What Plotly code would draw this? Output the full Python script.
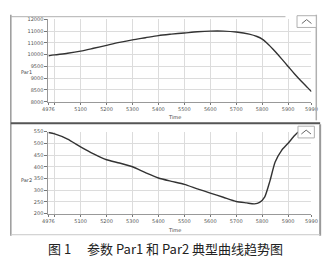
import plotly.graph_objects as go

# ---- data ----
time1 = [4976, 5000, 5050, 5100, 5150, 5200, 5250, 5300, 5350, 5400, 5450, 5500, 5550,
         5600, 5650, 5700, 5750, 5780, 5800, 5825, 5850, 5875, 5900, 5925, 5950, 5975, 5990]
par1 = [9950, 9990, 10060, 10150, 10270, 10395, 10520, 10630, 10720, 10810, 10870, 10920, 10970,
        11000, 11000, 10960, 10870, 10770, 10660, 10420, 10130, 9820, 9500, 9180, 8880, 8600, 8430]

time2 = [4976, 5000, 5050, 5100, 5150, 5200, 5250, 5300, 5350, 5400, 5450, 5500, 5550,
         5600, 5650, 5700, 5740, 5770, 5790, 5810, 5830, 5850, 5875, 5900, 5925, 5950, 5990]
par2 = [546, 540, 518, 485, 455, 430, 416, 400, 375, 352, 338, 325, 306,
        288, 270, 252, 246, 242, 248, 272, 340, 420, 470, 500, 533, 560, 590]

x_tickvals = [4976, 5000, 5100, 5200, 5300, 5400, 5500, 5600, 5700, 5800, 5900, 5990]
x_ticktext = ["4976", "", "5100", "5200", "5300", "5400", "5500", "5600", "5700", "5800", "5900", "5990"]

y1_tickvals = [8000, 8500, 9000, 9500, 10000, 10500, 11000, 11500]
y1_ticktext = ["8000", "8500", "9000", "9500", "10000", "11000", "11000", "12000"]

y2_tickvals = [200, 250, 300, 350, 400, 450, 500, 550]
y2_ticktext = ["200", "250", "300", "350", "400", "450", "500", "550"]

caption = "图 1　 参数 Par1 和 Par2 典型曲线趋势图"

# ---- figure ----
W, H = 330, 270
def py(p):  # pixel row -> paper y
    return 1 - p / H
def px(p):
    return p / W

line_col = "#333333"
grid_col = "#dcdcdc"
tick_font = dict(family="DejaVu Sans", size=5, color="#555555")

fig = go.Figure()
fig.add_trace(go.Scatter(x=time1, y=par1, mode="lines", xaxis="x", yaxis="y",
                         line=dict(color=line_col, width=1.4, shape="spline", smoothing=0.8),
                         showlegend=False, hoverinfo="skip"))
fig.add_trace(go.Scatter(x=time2, y=par2, mode="lines", xaxis="x2", yaxis="y2",
                         line=dict(color=line_col, width=1.4, shape="spline", smoothing=0.6),
                         showlegend=False, hoverinfo="skip"))

xcommon = dict(range=[4976, 5990], tickvals=x_tickvals, ticktext=x_ticktext, tickfont=tick_font,
               showgrid=True, gridcolor=grid_col, gridwidth=1, showline=True, linecolor="#999999",
               ticks="outside", ticklen=2, tickcolor="#777777", zeroline=False, fixedrange=True)
ycommon = dict(tickfont=tick_font, showgrid=True, gridcolor=grid_col, gridwidth=1, showline=True,
               linecolor="#999999", ticks="outside", ticklen=3, tickcolor="#777777", zeroline=False,
               fixedrange=True)

fig.update_layout(
    width=W, height=H, margin=dict(l=0, r=0, t=0, b=0),
    paper_bgcolor="white", plot_bgcolor="white",
    xaxis=dict(domain=[px(44), px(317)], anchor="y", **xcommon),
    yaxis=dict(domain=[py(101), py(16.7)], anchor="x", range=[8000, 11500],
               tickvals=y1_tickvals, ticktext=y1_ticktext, **ycommon),
    xaxis2=dict(domain=[px(44), px(317)], anchor="y2", **xcommon),
    yaxis2=dict(domain=[py(215.5), py(131.5)], anchor="x2", range=[200, 550],
                tickvals=y2_tickvals, ticktext=y2_ticktext, **ycommon),
)

small = dict(family="DejaVu Sans", size=5, color="#444444")
def ann(x, y, text, font, **kw):
    fig.add_annotation(x=px(x), y=py(y), xref="paper", yref="paper", text=text,
                       showarrow=False, font=font, xanchor="center", yanchor="middle", **kw)

ann(21, 71, "Par1", small)
ann(21, 181, "Par2", small)
ann(175, 117, "Time", small)
ann(175, 232, "Time", small)
ann(166, 251, caption, dict(family="Noto Sans CJK SC", size=13, color="#222222"))

# ---- frame / window decoration ----
def seg(x0, y0, x1, y1, color, width):
    fig.add_shape(type="line", xref="paper", yref="paper", x0=px(x0), y0=py(y0), x1=px(x1), y1=py(y1),
                  line=dict(color=color, width=width))

seg(5, 12, 5, 238, "#9a9a9a", 1.5)          # left edge
seg(5, 14, 290, 14, "#b0b0b0", 1)            # top line of upper panel
seg(322, 12, 322, 120, "#b0b0b0", 1.5)       # right edge upper
seg(5, 123, 326, 123, "#555555", 2)          # divider
seg(326, 124, 326, 238, "#9a9a9a", 2)        # right edge lower
seg(5, 237, 326, 237, "#c8c8c8", 1)          # bottom line

# buttons
for (bx0, by0, bx1, by1) in [(302, 13, 322, 25), (303, 126, 320, 138)]:
    fig.add_shape(type="rect", xref="paper", yref="paper", x0=px(bx0), y0=py(by1), x1=px(bx1), y1=py(by0),
                  line=dict(color="#b0b0b0", width=1), fillcolor="white")
    cx, cy = (bx0 + bx1) / 2, (by0 + by1) / 2
    fig.add_shape(type="path", xref="paper", yref="paper",
                  path=f"M {px(cx-5)},{py(cy+2)} L {px(cx)},{py(cy-2)} L {px(cx+5)},{py(cy+2)}",
                  line=dict(color="#666666", width=1))

fig.write_html("out.html")
